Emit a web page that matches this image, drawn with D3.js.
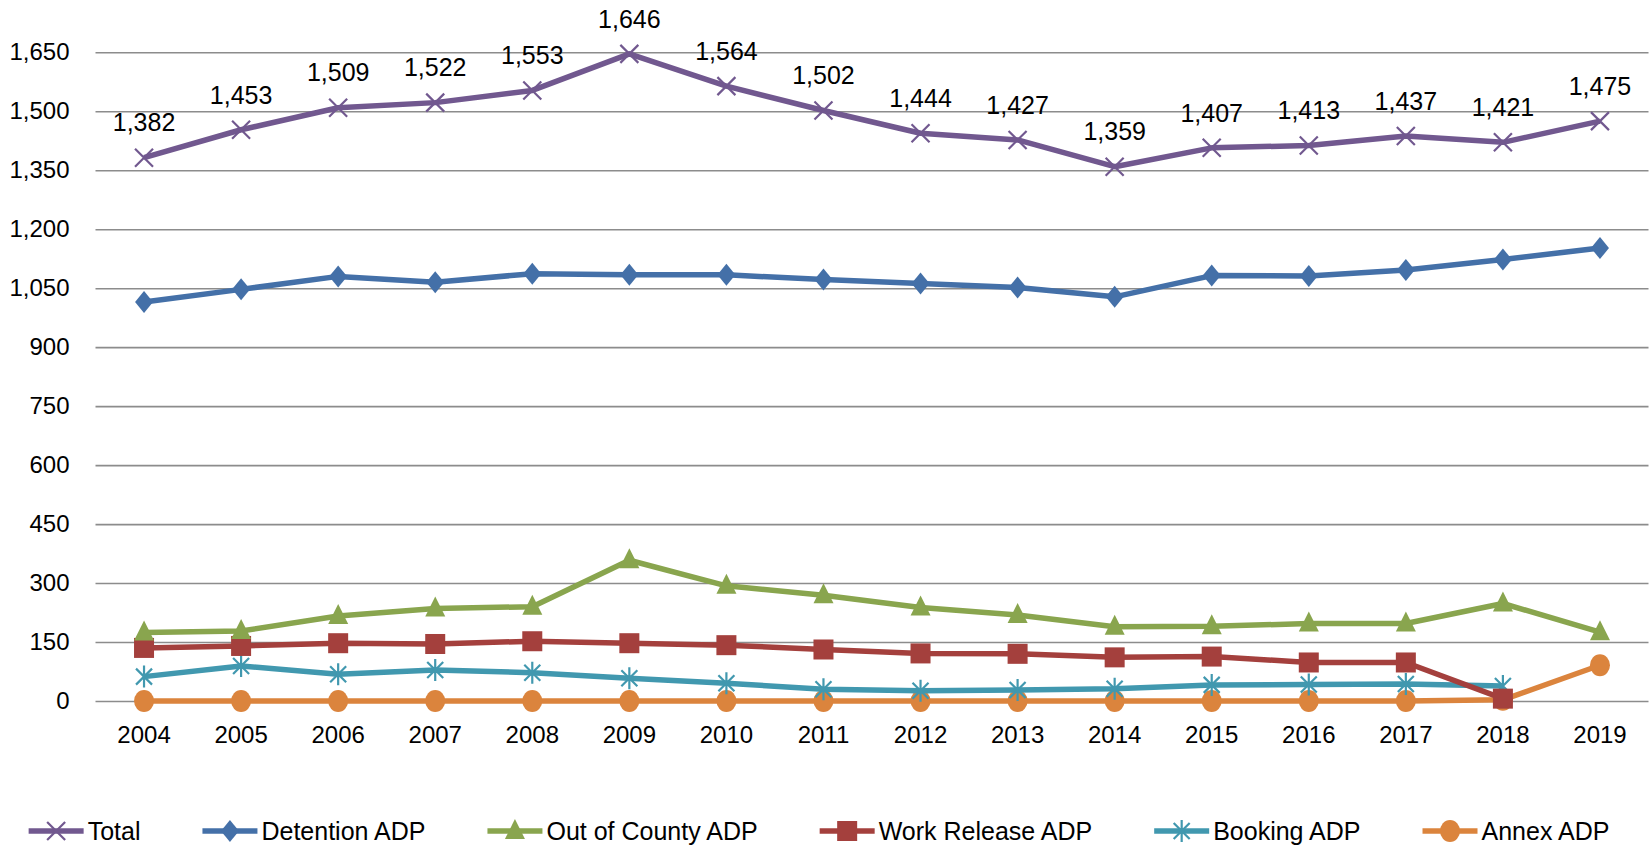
<!DOCTYPE html>
<html>
<head>
<meta charset="utf-8">
<script src="https://cdn.jsdelivr.net/npm/d3@7"></script>
<style>
    body { margin: 0; background: #fff; }
    text { font-family: "Liberation Sans", Arial, sans-serif; fill: #000; }
</style>
</head>
<body>
<script>
//// Data ////
const years = [2004, 2005, 2006, 2007, 2008, 2009, 2010, 2011, 2012, 2013, 2014, 2015, 2016, 2017, 2018, 2019]
const yTicks = [0, 150, 300, 450, 600, 750, 900, 1050, 1200, 1350, 1500, 1650]

const total = [1382, 1453, 1509, 1522, 1553, 1646, 1564, 1502, 1444, 1427, 1359, 1407, 1413, 1437, 1421, 1475]
const detention = [1015, 1047, 1080, 1065, 1087, 1084, 1084, 1072, 1062, 1052, 1028, 1082, 1081, 1096, 1123, 1152]
const outOfCounty = [174, 178, 216, 235, 240, 358, 293, 269, 238, 219, 189, 190, 197, 197, 248, 175]
const workRelease = [135, 140, 147, 145, 152, 147, 142, 131, 121, 120, 111, 113, 98, 98, 6, null]
const booking = [62, 89, 68, 79, 72, 58, 45, 30, 26, 28, 31, 41, 42, 43, 38, null]
const annex = [0, 0, 0, 0, 0, 0, 0, 0, 0, 0, 0, 0, 0, 0, 3, 91]

const seriesNames = ["Total", "Detention ADP", "Out of County ADP", "Work Release ADP", "Booking ADP", "Annex ADP"]
const seriesValues = [total, detention, outOfCounty, workRelease, booking, annex]
const seriesColors = ["#71588f", "#4470a8", "#89a54e", "#a4403d", "#4198af", "#db843d"]
const seriesShapes = ["cross", "diamond", "triangle", "square", "star", "circle"]

/// Drawing Area ///
const WIDTH = 1650
const HEIGHT = 845
const plotLeft = 95.5, plotRight = 1648.5, plotTop = 52.3, plotBottom = 701

const svg = d3.select("body")
    .append("svg")
    .attr("width", WIDTH)
    .attr("height", HEIGHT)

const x = d3.scaleBand().domain(years).range([plotLeft, plotRight])
const y = d3.scaleLinear().domain([0, 1650]).range([plotBottom, plotTop])
const cx = d => x(d) + x.bandwidth() / 2

// gridlines + y labels
const yAxis = d3.axisLeft(y)
    .tickValues(yTicks)
    .tickSize(-(plotRight - plotLeft))
    .tickPadding(26)
    .tickFormat(d3.format(","))

svg.append("g")
    .attr("transform", `translate(${plotLeft},0)`)
    .call(yAxis)
    .call(g => g.select(".domain").remove())
    .call(g => g.selectAll("line").attr("stroke", "#8c8c8c").attr("stroke-width", 1.6))
    .call(g => g.selectAll("text").style("font-size", "24px").attr("fill", "#000"))

// x labels
const xAxis = d3.axisBottom(x).tickSize(0).tickPadding(25)
svg.append("g")
    .attr("transform", `translate(0,${plotBottom})`)
    .call(xAxis)
    .call(g => g.select(".domain").remove())
    .call(g => g.selectAll("text").style("font-size", "24px").attr("fill", "#000"))

function drawMarker(g, shape, color) {
    if (shape == "cross") {
        g.append("path").attr("d", "M-9,-9L9,9M-9,9L9,-9")
            .attr("stroke", color).attr("stroke-width", 2.2).attr("fill", "none")
    } else if (shape == "diamond") {
        g.append("path").attr("d", "M0,-11L9,0L0,11L-9,0Z").attr("fill", color)
    } else if (shape == "triangle") {
        g.append("path").attr("d", "M0,-12L10,8L-10,8Z").attr("fill", color)
    } else if (shape == "square") {
        g.append("rect").attr("x", -10).attr("y", -10).attr("width", 20).attr("height", 20).attr("fill", color)
    } else if (shape == "star") {
        g.append("path").attr("d", "M0,-11L0,11M-8,-8L8,8M-8,8L8,-8")
            .attr("stroke", color).attr("stroke-width", 2.2).attr("fill", "none")
    } else {
        g.append("ellipse").attr("rx", 10).attr("ry", 11).attr("fill", color)
    }
}

// lines, drawn bottom series first so Total sits on top
const line = d3.line()
    .defined(d => d[1] != null)
    .x(d => cx(d[0]))
    .y(d => y(d[1]))

for (let s = seriesValues.length - 1; s >= 0; s--) {
    const pts = years.map((yr, i) => [yr, seriesValues[s][i]])
    const g = svg.append("g")
    g.append("path")
        .datum(pts)
        .attr("d", line)
        .attr("fill", "none")
        .attr("stroke", seriesColors[s])
        .attr("stroke-width", 5.5)
        .attr("stroke-linejoin", "round")
    pts.filter(p => p[1] != null).forEach(p => {
        const m = g.append("g").attr("transform", `translate(${cx(p[0])},${y(p[1])})`)
        drawMarker(m, seriesShapes[s], seriesColors[s])
    })
}

// Total data labels
svg.append("g")
    .selectAll("text")
    .data(years)
    .join("text")
    .attr("x", d => cx(d))
    .attr("y", (d, i) => y(total[i]) - 35)
    .attr("dy", "0.35em")
    .attr("text-anchor", "middle")
    .style("font-size", "25px")
    .text((d, i) => d3.format(",")(total[i]))

// legend
const legend = svg.append("g")
let lx = 0
seriesNames.forEach((name, s) => {
    const item = legend.append("g").attr("transform", `translate(${lx},0)`)
    item.append("line")
        .attr("x1", 0).attr("x2", 55)
        .attr("stroke", seriesColors[s]).attr("stroke-width", 5.5)
    const m = item.append("g").attr("transform", "translate(27.5,0)")
    drawMarker(m, seriesShapes[s], seriesColors[s])
    const t = item.append("text")
        .attr("x", 59)
        .attr("dy", "0.35em")
        .style("font-size", "25px")
        .text(name)
    lx += 59 + t.node().getComputedTextLength() + 62
})
const legendWidth = lx - 62
legend.attr("transform", `translate(${819 - legendWidth / 2},831)`)
</script>
</body>
</html>
